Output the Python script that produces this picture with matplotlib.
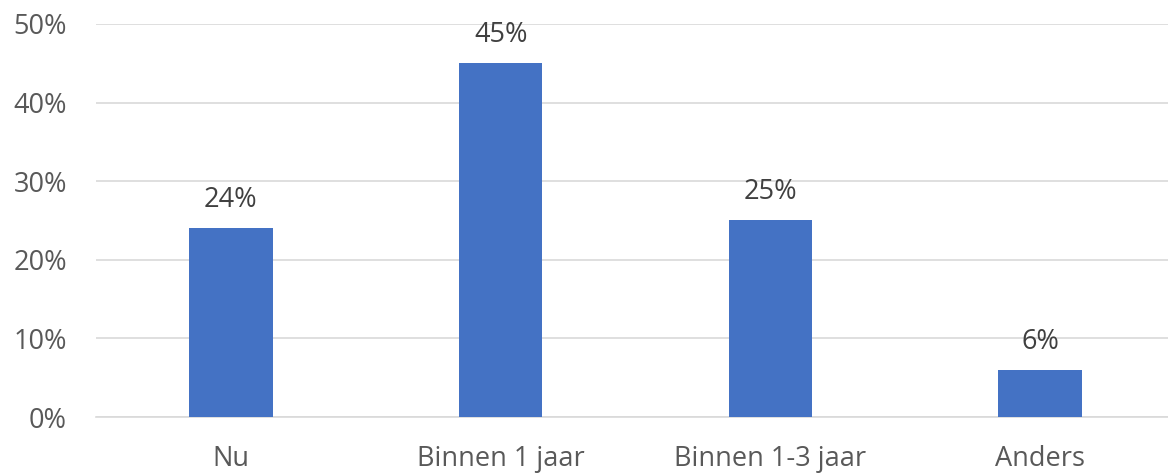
import matplotlib.pyplot as plt
import numpy as np

# data
categorieen = ["Nu", "Binnen 1 jaar", "Binnen 1-3 jaar", "Anders"]
waarden = [24, 45, 25, 6]
yticks = [0, 10, 20, 30, 40, 50]

plt.rcParams['font.family'] = ['Open Sans', 'DejaVu Sans']
tekstkleur = '#595959'

fig = plt.figure(figsize=(11.68, 4.73), dpi=100)
ax = fig.add_axes([96 / 1168, (473 - 417) / 473, (1168 - 96) / 1168, (417 - 24) / 473])

x = np.arange(len(categorieen))
ax.bar(x, waarden, width=0.31, color='#4472C4', zorder=3)

for xi, v in zip(x, waarden):
    ax.text(xi, v + 1.8, f"{v}%", ha='center', va='bottom', fontsize=19.5, color='#404040')

ax.set_xlim(-0.5, 3.474)
ax.set_ylim(0, 50)
ax.set_yticks(yticks)
ax.set_yticklabels([f"{t}%" for t in yticks], fontsize=19.5, color=tekstkleur)
ax.set_xticks(x)
ax.set_xticklabels(categorieen, fontsize=19.5, color=tekstkleur)
ax.tick_params(axis='both', length=0)
ax.tick_params(axis='y', pad=21)
ax.tick_params(axis='x', pad=20)

ax.grid(axis='y', color='#D9D9D9', linewidth=1.2, zorder=0)
for s in ['top', 'right', 'left']:
    ax.spines[s].set_visible(False)
ax.spines['bottom'].set_color('#D9D9D9')
ax.spines['bottom'].set_linewidth(1.2)

fig.savefig('out.png', dpi=100)
